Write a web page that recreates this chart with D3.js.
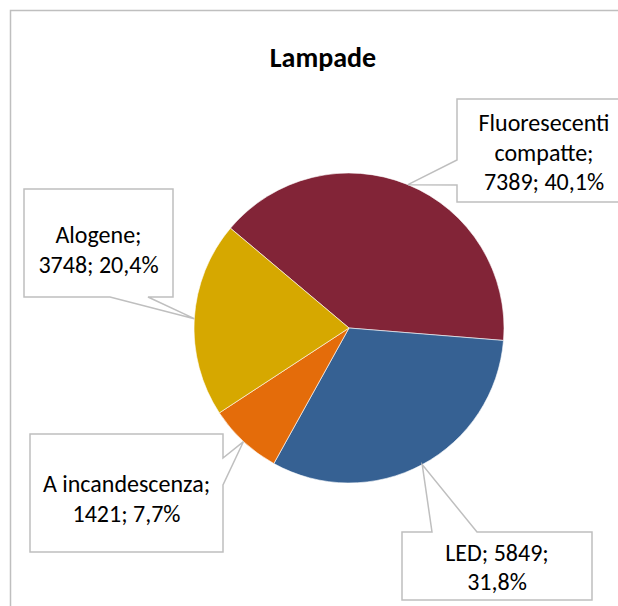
<!DOCTYPE html>
<html>
<head>
<meta charset="utf-8">
<script src="https://cdn.jsdelivr.net/npm/d3@7"></script>
<style>
  html, body { margin: 0; padding: 0; background: #fff; overflow: hidden; }
  svg { display: block; }
  text { font-family: Carlito, Calibri, Lato, sans-serif; }
</style>
</head>
<body>
<svg id="chart" width="618" height="606"></svg>
<script>
// ---- data ----
const title = "Lampade";
const categories = ["Fluoresecenti compatte", "LED", "A incandescenza", "Alogene"];
const values = [7389, 5849, 1421, 3748];
const colors = ["#822437", "#366193", "#E46C0A", "#D6A800"];
// words per line in each data label
const labelLineWords = [[1, 1, 2], [2, 1], [2, 2], [1, 2]];

// ---- layout ----
const W = 618, H = 606;
const cx = 349, cy = 328, R = 155;
const startDeg = -49.9;
// callout boxes: rect, wedge side + base, text center x + baselines
const callouts = [
  { x0: 457, y0: 99, x1: 631, y1: 202, side: "left", b0: 160, b1: 185, tx: 544, base: [131, 160.5, 190] },
  { x0: 402, y0: 532, x1: 592, y1: 600, side: "top", b0: 432, b1: 477, tx: 497, base: [561, 590] },
  { x0: 30, y0: 434, x1: 223, y1: 552, side: "right", b0: 458, b1: 485, tx: 126.5, base: [492, 522] },
  { x0: 24, y0: 189, x1: 173, y1: 297, side: "bottom", b0: 110, b1: 148, tx: 98.5, base: [243, 273] }
];

const svg = d3.select("#chart");

// chart area border (extends beyond right/bottom of the picture)
svg.append("rect")
  .attr("x", 10.5).attr("y", 10.5)
  .attr("width", 640).attr("height", 640)
  .attr("fill", "#fff")
  .attr("stroke", "#BFBFBF").attr("stroke-width", 1.5);

// title
svg.append("text")
  .attr("x", 323).attr("y", 67)
  .attr("text-anchor", "middle")
  .attr("font-weight", "bold")
  .attr("font-size", 28)
  .attr("fill", "#000")
  .text(title);

const total = d3.sum(values);
const data = categories.map((c, i) => ({ name: c, value: values[i], color: colors[i], i }));

const pie = d3.pie().sort(null).value(d => d.value)
  .startAngle(startDeg * Math.PI / 180)
  .endAngle(startDeg * Math.PI / 180 + 2 * Math.PI);
const arcs = pie(data);

const arc = d3.arc().innerRadius(0).outerRadius(R);
const edgeArc = d3.arc().innerRadius(R).outerRadius(R);

const g = svg.append("g").attr("transform", `translate(${cx},${cy})`);
g.selectAll("path.slice").data(arcs).enter().append("path")
  .attr("class", "slice")
  .attr("d", arc)
  .attr("fill", d => d.data.color)
  .attr("stroke", "#fff").attr("stroke-width", 0.6);

// callouts
const fmtPct = v => (v * 100).toFixed(1).replace(".", ",") + "%";

arcs.forEach((a, i) => {
  const c = callouts[i];
  const [tx, ty] = edgeArc.centroid(a);
  const tipX = cx + tx, tipY = cy + ty;
  let pts;
  if (c.side === "left") {
    pts = [[c.x0, c.y0], [c.x1, c.y0], [c.x1, c.y1], [c.x0, c.y1], [c.x0, c.b1], [tipX, tipY], [c.x0, c.b0]];
  } else if (c.side === "top") {
    pts = [[c.x0, c.y0], [c.b0, c.y0], [tipX, tipY], [c.b1, c.y0], [c.x1, c.y0], [c.x1, c.y1], [c.x0, c.y1]];
  } else if (c.side === "right") {
    pts = [[c.x0, c.y0], [c.x1, c.y0], [c.x1, c.b0], [tipX, tipY], [c.x1, c.b1], [c.x1, c.y1], [c.x0, c.y1]];
  } else {
    pts = [[c.x0, c.y0], [c.x1, c.y0], [c.x1, c.y1], [c.b1, c.y1], [tipX, tipY], [c.b0, c.y1], [c.x0, c.y1]];
  }
  svg.append("path")
    .attr("d", d3.line()(pts) + "Z")
    .attr("fill", "#fff")
    .attr("stroke", "#BFBFBF").attr("stroke-width", 1.5)
    .attr("stroke-linejoin", "miter");

  const full = `${a.data.name}; ${a.data.value}; ${fmtPct(a.data.value / total)}`;
  const words = full.split(" ");
  const lines = [];
  let k = 0;
  labelLineWords[i].forEach(n => { lines.push(words.slice(k, k + n).join(" ")); k += n; });

  const t = svg.append("text")
    .attr("text-anchor", "middle")
    .attr("font-size", 24)
    .attr("fill", "#000");
  lines.forEach((ln, j) => {
    t.append("tspan").attr("x", c.tx).attr("y", c.base[j]).text(ln);
  });
});
</script>
</body>
</html>
